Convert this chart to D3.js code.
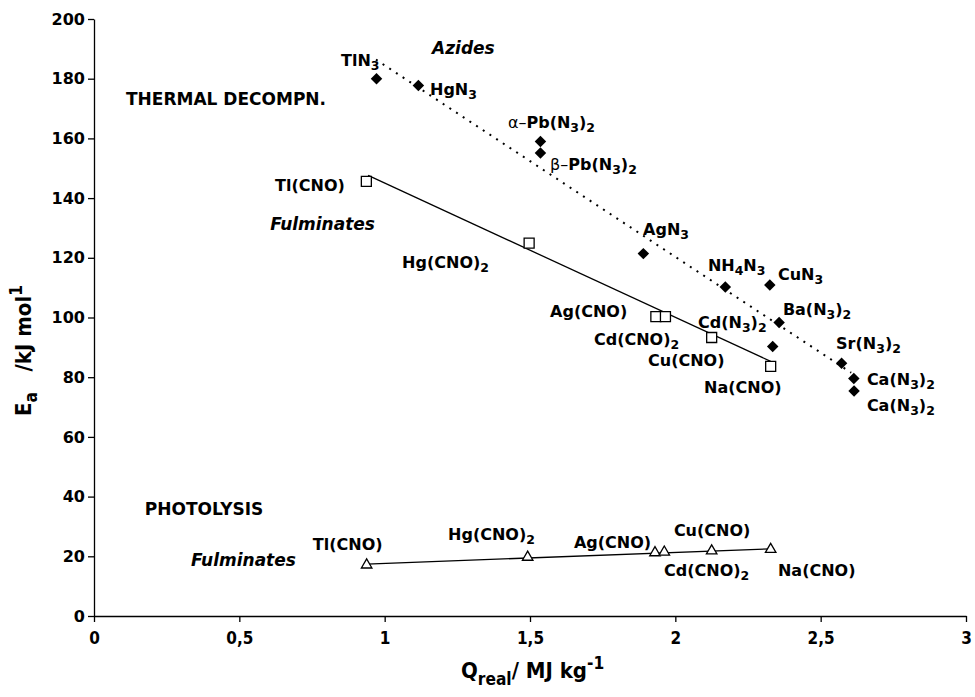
<!DOCTYPE html>
<html>
<head>
<meta charset="utf-8">
<script src="https://cdn.jsdelivr.net/npm/d3@7/dist/d3.min.js"></script>
<style>
  html, body { margin: 0; padding: 0; background: #fff; }
  svg { display: block; }
  text { fill: #000; }
</style>
</head>
<body>
<svg id="chart" width="975" height="697"></svg>
<script>
// Activation energy Ea vs. heat of reaction Q for azides and fulminates

// Azides, thermal decomposition (filled diamonds)
const azideNames = ["TlN3", "HgN3", "α-Pb(N3)2", "β-Pb(N3)2", "AgN3", "NH4N3", "CuN3",
                    "Ba(N3)2", "Cd(N3)2", "Sr(N3)2", "Ca(N3)2", "Ca(N3)2"];
const azideQ  = [0.972, 1.116, 1.536, 1.536, 1.890, 2.172, 2.325, 2.357, 2.335, 2.572, 2.614, 2.615];
const azideEa = [180.0, 177.7, 159.0, 155.1, 121.4, 110.2, 110.9, 98.3, 90.3, 84.7, 79.6, 75.4];

// Fulminates, thermal decomposition (open squares)
const fulmNames     = ["Tl(CNO)", "Hg(CNO)2", "Ag(CNO)", "Cd(CNO)2", "Cu(CNO)", "Na(CNO)"];
const fulmThermalQ  = [0.937, 1.497, 1.933, 1.966, 2.125, 2.328];
const fulmThermalEa = [145.6, 124.9, 100.3, 100.3, 93.3, 83.6];

// Fulminates, photolysis (open triangles)
const fulmPhotoQ  = [0.938, 1.492, 1.930, 1.962, 2.125, 2.328];
const fulmPhotoEa = [17.1, 19.7, 21.2, 21.4, 21.8, 22.3];

// Trend lines: [Q start, Q end] and [Ea start, Ea end]
const azideTrendQ  = [0.970, 2.605];
const azideTrendEa = [186.4, 81.5];
const thermTrendQ  = [0.943, 2.328];
const thermTrendEa = [147.6, 85.3];
const photoTrendQ  = [0.938, 2.328];
const photoTrendEa = [17.4, 22.5];

// Axis ticks
const xTicks = [0, 0.5, 1, 1.5, 2, 2.5, 3];
const yTicks = [0, 20, 40, 60, 80, 100, 120, 140, 160, 180, 200];

// Annotations: markup text, anchor Q, anchor Ea, style
// markup: _x / _{..} subscript, ^{..} superscript, [..] regular weight
const annotations = [
  ["Azides", 1.163, 188.3, "italic"],
  ["TlN_3", 0.850, 184.3, "label"],
  ["HgN_3", 1.156, 174.5, "label"],
  ["THERMAL DECOMPN.", 0.110, 171.2, "title"],
  ["[α–]Pb(N_3)_2", 1.424, 163.5, "label"],
  ["[β–]Pb(N_3)_2", 1.569, 149.4, "label"],
  ["Tl(CNO)", 0.623, 142.4, "label"],
  ["Fulminates", 0.606, 129.3, "italic"],
  ["Hg(CNO)_2", 1.060, 116.6, "label"],
  ["AgN_3", 1.889, 127.6, "label"],
  ["NH_4N_3", 2.112, 115.6, "label"],
  ["CuN_3", 2.353, 112.6, "label"],
  ["Ba(N_3)_2", 2.370, 100.8, "label"],
  ["Cd(N_3)_2", 2.078, 96.5, "label"],
  ["Sr(N_3)_2", 2.553, 89.4, "label"],
  ["Ca(N_3)_2", 2.659, 77.4, "label"],
  ["Ca(N_3)_2", 2.659, 68.7, "label"],
  ["Ag(CNO)", 1.569, 100.2, "label"],
  ["Cd(CNO)_2", 1.720, 90.8, "label"],
  ["Cu(CNO)", 1.906, 83.8, "label"],
  ["Na(CNO)", 2.099, 74.7, "label"],
  ["PHOTOLYSIS", 0.175, 33.8, "title"],
  ["Fulminates", 0.334, 16.8, "italic"],
  ["Tl(CNO)", 0.753, 22.1, "label"],
  ["Hg(CNO)_2", 1.218, 25.5, "label"],
  ["Ag(CNO)", 1.651, 22.8, "label"],
  ["Cu(CNO)", 1.995, 26.8, "label"],
  ["Cd(CNO)_2", 1.961, 13.4, "label"],
  ["Na(CNO)", 2.353, 13.4, "label"]
];

const svg = d3.select("#chart");
const margin = { left: 94, right: 9, top: 19, bottom: 81 };
const W = 975, H = 697;

const x = d3.scaleLinear().domain([0, 3]).range([margin.left, W - margin.right]);
const y = d3.scaleLinear().domain([0, 200]).range([H - margin.bottom, margin.top]);

const SANS = "'DejaVu Sans', Verdana, sans-serif";
const COND = "'DejaVu Sans Condensed', 'DejaVu Sans', sans-serif";

// Axes
const yAxis = svg.append("g")
  .attr("transform", `translate(${x(0)},0)`)
  .call(d3.axisLeft(y).tickValues(yTicks).tickSize(6).tickSizeOuter(0).tickPadding(3));
yAxis.selectAll("text")
  .style("font-family", SANS).style("font-weight", "bold").style("font-size", "16px")
  .attr("fill", "#000");

const xAxis = svg.append("g")
  .attr("transform", `translate(0,${y(0)})`)
  .call(d3.axisBottom(x).tickValues(xTicks).tickSize(6).tickSizeOuter(0).tickPadding(10)
    .tickFormat(d => String(d).replace(".", ",")));
xAxis.selectAll("text")
  .style("font-family", COND).style("font-weight", "bold").style("font-size", "17px")
  .style("font-stretch", "condensed")
  .attr("fill", "#000");

svg.selectAll(".domain, .tick line").attr("stroke", "#000").attr("stroke-width", 1.3);

// Rich text helper
function richText(sel, markup, subShift = 4, supShift = -7) {
  const re = /_\{([^}]*)\}|_(.)|\^\{([^}]*)\}|\^(.)|\[([^\]]*)\]|([^_^\[]+)/g;
  let m, shift = 0;
  while ((m = re.exec(markup)) !== null) {
    let t, kind;
    if (m[1] !== undefined || m[2] !== undefined) { t = m[1] ?? m[2]; kind = "sub"; }
    else if (m[3] !== undefined || m[4] !== undefined) { t = m[3] ?? m[4]; kind = "sup"; }
    else if (m[5] !== undefined) { t = m[5]; kind = "reg"; }
    else { t = m[6]; kind = "n"; }
    const target = kind === "sub" ? subShift : kind === "sup" ? supShift : 0;
    const ts = sel.append("tspan").text(t).attr("dy", target - shift);
    shift = target;
    if (kind === "sub" || kind === "sup") ts.style("font-size", "0.78em");
    if (kind === "reg") ts.style("font-weight", "normal");
  }
}

// Trend lines
const line = d3.line().x(d => x(d[0])).y(d => y(d[1]));
svg.append("path")
  .attr("d", line(d3.zip(azideTrendQ, azideTrendEa)))
  .attr("fill", "none").attr("stroke", "#000").attr("stroke-width", 2)
  .attr("stroke-dasharray", "2,6");
svg.append("path")
  .attr("d", line(d3.zip(thermTrendQ, thermTrendEa)))
  .attr("fill", "none").attr("stroke", "#000").attr("stroke-width", 1.3);
svg.append("path")
  .attr("d", line(d3.zip(photoTrendQ, photoTrendEa)))
  .attr("fill", "none").attr("stroke", "#000").attr("stroke-width", 1.3);

// Markers
const diamond = d3.symbol().type(d3.symbolSquare).size(66);
svg.append("g").selectAll("path")
  .data(d3.zip(azideQ, azideEa))
  .join("path")
  .attr("d", diamond)
  .attr("transform", d => `translate(${x(d[0])},${y(d[1])}) rotate(45)`)
  .attr("fill", "#000");

const square = d3.symbol().type(d3.symbolSquare).size(100);
svg.append("g").selectAll("path")
  .data(d3.zip(fulmThermalQ, fulmThermalEa))
  .join("path")
  .attr("d", square)
  .attr("transform", d => `translate(${x(d[0])},${y(d[1])})`)
  .attr("fill", "#fff").attr("stroke", "#000").attr("stroke-width", 1.3);

const tri = d3.symbol().type(d3.symbolTriangle).size(48);
svg.append("g").selectAll("path")
  .data(d3.zip(fulmPhotoQ, fulmPhotoEa))
  .join("path")
  .attr("d", tri)
  .attr("transform", d => `translate(${x(d[0])},${y(d[1])})`)
  .attr("fill", "#fff").attr("stroke", "#000").attr("stroke-width", 1.3);

// Annotations
const styles = {
  label:  { size: 16, italic: false },
  title:  { size: 17, italic: false },
  italic: { size: 17, italic: true }
};
annotations.forEach(([txt, q, ea, kind]) => {
  const s = styles[kind];
  const t = svg.append("text")
    .attr("x", x(q)).attr("y", y(ea))
    .style("font-family", SANS)
    .style("font-weight", "bold")
    .style("font-style", s.italic ? "italic" : "normal")
    .style("font-size", s.size + "px");
  richText(t, txt);
});

// Axis titles
const xt = svg.append("text")
  .attr("x", 461).attr("y", 678)
  .style("font-family", COND).style("font-weight", "bold").style("font-size", "22px")
  .style("font-stretch", "condensed");
richText(xt, "Q_{real}/ MJ kg^{-1}", 7, -9);

const yt = svg.append("text")
  .attr("transform", `translate(31,${416}) rotate(-90)`)
  .style("font-family", COND).style("font-weight", "bold").style("font-size", "22px")
  .style("font-stretch", "condensed");
richText(yt, "E_a\u00a0\u00a0\u00a0/kJ mol^1", 6, -9);
</script>
</body>
</html>
